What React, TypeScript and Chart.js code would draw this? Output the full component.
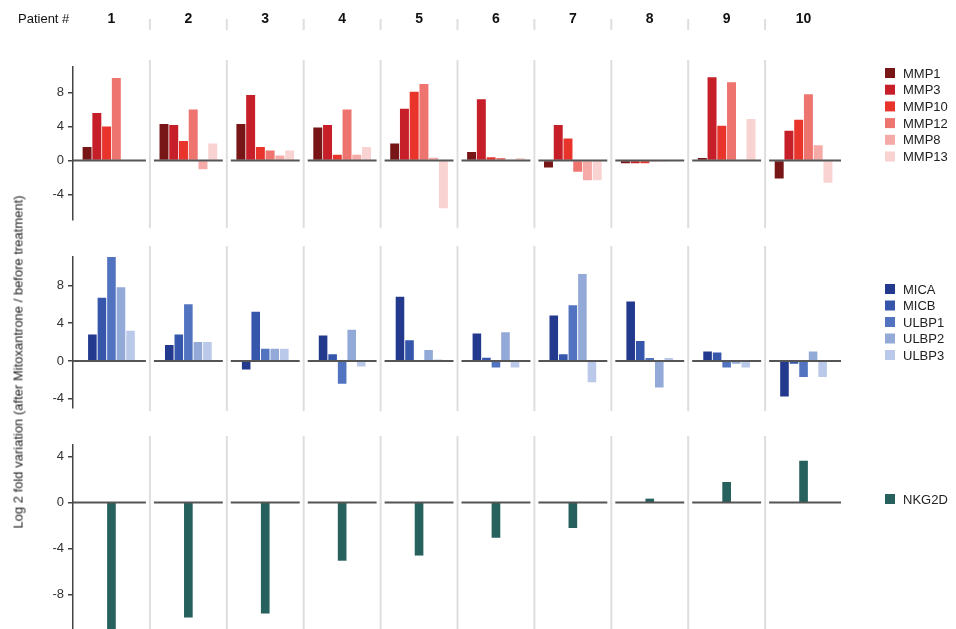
import React, { useEffect, useRef } from "react";
import { Chart, registerables } from "chart.js";
Chart.register(...registerables);

const FONT = "'Liberation Sans', Arial, Helvetica, sans-serif";
Chart.defaults.font.family = FONT;

// ---------- data ----------
const PATIENTS = ["1", "2", "3", "4", "5", "6", "7", "8", "9", "10"];

const MMP_LABELS = ["MMP1", "MMP3", "MMP10", "MMP12", "MMP8", "MMP13"];
const MMP1 = [1.6, 4.3, 4.3, 3.9, 2.0, 1.0, -0.8, -0.3, 0.3, -2.1];
const MMP3 = [5.6, 4.2, 7.7, 4.2, 6.1, 7.2, 4.2, -0.3, 9.8, 3.5];
const MMP10 = [4.0, 2.3, 1.6, 0.7, 8.1, 0.4, 2.6, -0.3, 4.1, 4.8];
const MMP12 = [9.7, 6.0, 1.2, 6.0, 9.0, 0.3, -1.3, -0.1, 9.2, 7.8];
const MMP8 = [0, -1.0, 0.6, 0.7, 0.35, 0.1, -2.3, -0.1, 0, 1.8];
const MMP13 = [0, 2.0, 1.2, 1.6, -5.6, 0.3, -2.3, 0.1, 4.9, -2.6];
const MMP_COLORS = ["#771517", "#c61f29", "#e9342c", "#ee746f", "#f5aaa8", "#f9d2d2"];

const LIG_LABELS = ["MICA", "MICB", "ULBP1", "ULBP2", "ULBP3"];
const MICA = [2.8, 1.7, -0.9, 2.7, 6.8, 2.9, 4.8, 6.3, 1.0, -3.75];
const MICB = [6.7, 2.8, 5.2, 0.7, 2.2, 0.35, 0.7, 2.1, 0.9, -0.3];
const ULBP1 = [11.0, 6.0, 1.3, -2.4, 0.1, -0.7, 5.9, 0.3, -0.7, -1.7];
const ULBP2 = [7.8, 2.0, 1.3, 3.3, 1.15, 3.05, 9.2, -2.8, -0.3, 1.0];
const ULBP3 = [3.2, 2.0, 1.3, -0.6, 0.15, -0.7, -2.25, 0.3, -0.7, -1.7];
const LIG_COLORS = ["#22398e", "#3556ab", "#5274c0", "#93a9d8", "#bac9e9"];

const NKG_LABELS = ["NKG2D"];
const NKG2D = [-11.6, -10.0, -9.65, -5.05, -4.6, -3.05, -2.2, 0.3, 1.75, 3.6];
const NKG_COLORS = ["#27615e"];

const MMP_TICKS = [8, 4, 0, -4];
const LIG_TICKS = [8, 4, 0, -4];
const NKG_TICKS = [4, 0, -4, -8];

const Y_TITLE = "Log 2 fold variation (after Mitoxantrone / before treatment)";
const HEADER_TITLE = "Patient #";

// ---------- plugin ----------
const panelDecor = {
  id: "panelDecor",
  beforeDatasetsDraw(chart: any, _a: any, opts: any) {
    const { ctx, chartArea } = chart;
    const x = chart.scales.x;
    ctx.save();
    ctx.strokeStyle = "#dedede";
    ctx.lineWidth = 2;
    for (let i = 1; i < x.ticks.length; i++) {
      const bx = (x.getPixelForTick(i - 1) + x.getPixelForTick(i)) / 2;
      ctx.beginPath();
      ctx.moveTo(bx, chartArea.top - opts.sepAbove);
      ctx.lineTo(bx, chartArea.bottom + opts.sepBelow);
      ctx.stroke();
      if (opts.header) {
        ctx.beginPath();
        ctx.moveTo(bx, opts.headerY);
        ctx.lineTo(bx, opts.headerY + 11);
        ctx.stroke();
      }
    }
    ctx.restore();
  },
  afterDatasetsDraw(chart: any, _a: any, opts: any) {
    const { ctx } = chart;
    const x = chart.scales.x;
    const y = chart.scales.y;
    const y0 = y.getPixelForValue(0);
    const n = x.ticks.length;
    const half = (x.getPixelForTick(1) - x.getPixelForTick(0)) / 2;
    ctx.save();
    ctx.strokeStyle = "#555";
    ctx.lineWidth = 2;
    for (let i = 0; i < n; i++) {
      const cx = x.getPixelForTick(i);
      ctx.beginPath();
      ctx.moveTo(cx - half + (i === 0 ? 0 : 4), y0);
      ctx.lineTo(cx + half - (i === n - 1 ? 1 : 4), y0);
      ctx.stroke();
    }
    // header
    if (opts.header) {
      ctx.fillStyle = "#111";
      ctx.textBaseline = "middle";
      ctx.textAlign = "left";
      ctx.font = `13px ${FONT}`;
      ctx.fillText(opts.headerTitle, 18, opts.headerY);
      ctx.textAlign = "center";
      ctx.font = `bold 14px ${FONT}`;
      const labels = chart.data.labels;
      for (let i = 0; i < n; i++) {
        ctx.fillText(String(labels[i]), x.getPixelForTick(i), opts.headerY);
      }
    }
    // legend
    ctx.textAlign = "left";
    ctx.textBaseline = "middle";
    ctx.font = `13px ${FONT}`;
    chart.data.datasets.forEach((ds: any, i: number) => {
      const cy = opts.legendTop + i * opts.legendStep;
      ctx.fillStyle = ds.backgroundColor;
      ctx.fillRect(opts.legendX, cy - 5, 10, 10);
      ctx.fillStyle = "#222";
      ctx.fillText(ds.label, opts.legendX + 18, cy + 1);
    });
    ctx.restore();
  },
};

type PanelProps = {
  top: number;
  height: number;
  padTop: number;
  padBottom: number;
  labels: string[];
  series: number[][];
  colors: string[];
  min: number;
  max: number;
  ticks: number[];
  catPct: number;
  barPct: number;
  barThickness?: number;
  decor: any;
};

function Panel(p: PanelProps) {
  const ref = useRef<HTMLCanvasElement | null>(null);
  useEffect(() => {
    if (!ref.current) return;
    const chart = new Chart(ref.current, {
      type: "bar",
      data: {
        labels: PATIENTS,
        datasets: p.series.map((d, i) => ({
          label: p.labels[i],
          data: d,
          backgroundColor: p.colors[i],
          borderWidth: 0,
          categoryPercentage: p.catPct,
          barPercentage: p.barPct,
          ...(p.barThickness ? { barThickness: p.barThickness } : {}),
        })),
      },
      options: {
        animation: false,
        responsive: false,
        devicePixelRatio: 1,
        events: [],
        layout: { padding: { top: p.padTop, bottom: p.padBottom, left: 0, right: 114 } },
        plugins: {
          legend: { display: false },
          tooltip: { enabled: false },
          panelDecor: p.decor,
        } as any,
        scales: {
          x: { type: "category", display: false },
          y: {
            min: p.min,
            max: p.max,
            afterFit: (s: any) => {
              s.width = 73;
            },
            afterBuildTicks: (s: any) => {
              s.ticks = p.ticks.map((v) => ({ value: v }));
            },
            grid: {
              drawOnChartArea: false,
              drawTicks: true,
              tickLength: 5,
              color: "#444",
              lineWidth: 1.5,
            },
            border: { display: true, color: "#444", width: 1.5 },
            ticks: { color: "#333", font: { size: 13, family: FONT }, padding: 4 },
          },
        },
      },
      plugins: [panelDecor],
    });
    return () => chart.destroy();
  }, []);
  return (
    <div style={{ position: "absolute", left: 0, top: p.top, width: 956, height: p.height }}>
      <canvas ref={ref} width={956} height={p.height} style={{ width: 956, height: p.height, display: "block" }} />
    </div>
  );
}

export default function App() {
  return (
    <div
      style={{
        position: "fixed",
        left: 0,
        top: 0,
        width: 956,
        height: 629,
        background: "#fff",
        overflow: "hidden",
        fontFamily: FONT,
      }}
    >
      <Panel
        top={0}
        height={232}
        padTop={67}
        padBottom={11}
        labels={MMP_LABELS}
        series={[MMP1, MMP3, MMP10, MMP12, MMP8, MMP13]}
        colors={MMP_COLORS}
        min={-7}
        max={11}
        ticks={MMP_TICKS}
        catPct={0.76}
        barPct={0.92}
        decor={{ header: true, headerTitle: HEADER_TITLE, headerY: 19, sepAbove: 7, sepBelow: 8, legendX: 885, legendTop: 73, legendStep: 16.7 }}
      />
      <Panel
        top={240}
        height={180}
        padTop={17}
        padBottom={10}
        labels={LIG_LABELS}
        series={[MICA, MICB, ULBP1, ULBP2, ULBP3]}
        colors={LIG_COLORS}
        min={-5}
        max={11}
        ticks={LIG_TICKS}
        catPct={0.62}
        barPct={0.9}
        decor={{ header: false, sepAbove: 11, sepBelow: 3, legendX: 885, legendTop: 49, legendStep: 16.5 }}
      />
      <Panel
        top={430}
        height={215}
        padTop={15}
        padBottom={14}
        labels={NKG_LABELS}
        series={[NKG2D]}
        colors={NKG_COLORS}
        min={-11.2}
        max={5}
        ticks={NKG_TICKS}
        catPct={0.8}
        barPct={0.9}
        barThickness={8}
        decor={{ header: false, sepAbove: 9, sepBelow: 14, legendX: 885, legendTop: 69, legendStep: 16.5 }}
      />
      <div
        style={{
          position: "absolute",
          left: 18,
          top: 362,
          transform: "translate(-50%, -50%) rotate(-90deg)",
          whiteSpace: "nowrap",
          fontSize: 13,
          color: "#222",
          fontFamily: FONT,
        }}
      >
        {Y_TITLE}
      </div>
    </div>
  );
}
